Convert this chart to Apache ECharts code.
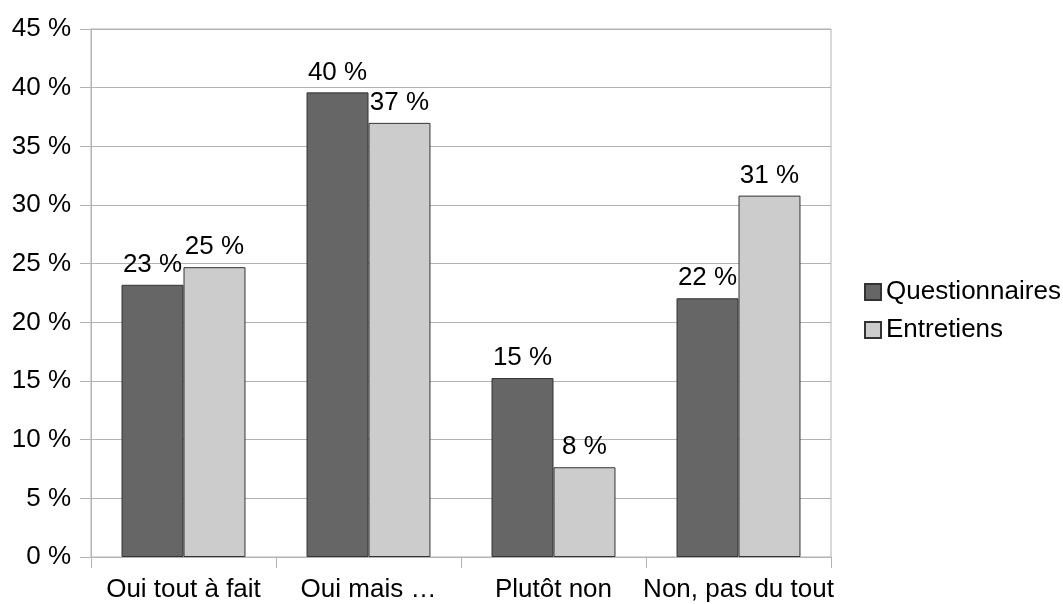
<!DOCTYPE html>
<html><head><meta charset="utf-8">
<script src="https://cdn.jsdelivr.net/npm/echarts@6/dist/echarts.min.js"></script>
<style>html,body{margin:0;padding:0;background:#fff}#c{width:1063px;height:604px}</style>
</head><body><div id="c"></div>
<script>
const categories = ['Oui tout à fait', 'Oui mais …', 'Plutôt non', 'Non, pas du tout'];
const questionnaires = [23.2, 39.6, 15.25, 22.05];
const entretiens = [24.7, 37.0, 7.65, 30.8];
const seriesNames = ['Questionnaires', 'Entretiens'];

const FONT = '"Liberation Sans", Arial, sans-serif';
const FS = 26;
const chart = echarts.init(document.getElementById('c'), null, {renderer: 'canvas'});
const lbl = {
  show: true, position: 'top', distance: 7, color: '#000',
  fontFamily: FONT, fontSize: FS,
  formatter: p => Math.round(p.value) + ' %'
};
chart.setOption({
  animation: false,
  backgroundColor: '#fff',
  grid: {left: 91, right: 232, top: 29, bottom: 47, show: true, borderColor: '#b3b3b3', borderWidth: 1},
  legend: {
    orient: 'vertical', left: 864, top: 279, padding: 0, itemWidth: 16, itemHeight: 16, itemGap: 12,
    icon: 'rect',
    textStyle: {fontFamily: FONT, fontSize: FS, color: '#000'},
    data: seriesNames
  },
  xAxis: {
    type: 'category', data: categories,
    axisLine: {show: true, lineStyle: {color: '#b3b3b3'}},
    axisTick: {show: true, length: 11, lineStyle: {color: '#b3b3b3'}},
    axisLabel: {fontFamily: FONT, fontSize: FS, color: '#000', margin: 20, interval: 0},
    splitLine: {show: false}
  },
  yAxis: {
    type: 'value', min: 0, max: 45, interval: 5,
    axisLine: {show: true, lineStyle: {color: '#b3b3b3'}},
    axisTick: {show: true, length: 11, lineStyle: {color: '#b3b3b3'}},
    axisLabel: {fontFamily: FONT, fontSize: FS, color: '#000', margin: 20, formatter: v => v + ' %'},
    splitLine: {show: true, lineStyle: {color: '#b3b3b3'}}
  },
  series: [
    {name: seriesNames[0], type: 'bar', data: questionnaires, barGap: '0%', barCategoryGap: '33%',
     itemStyle: {color: '#666666', borderColor: '#333333', borderWidth: 1}, label: lbl},
    {name: seriesNames[1], type: 'bar', data: entretiens, barGap: '0%', barCategoryGap: '33%',
     itemStyle: {color: '#cccccc', borderColor: '#333333', borderWidth: 1}, label: lbl}
  ]
});
</script></body></html>
